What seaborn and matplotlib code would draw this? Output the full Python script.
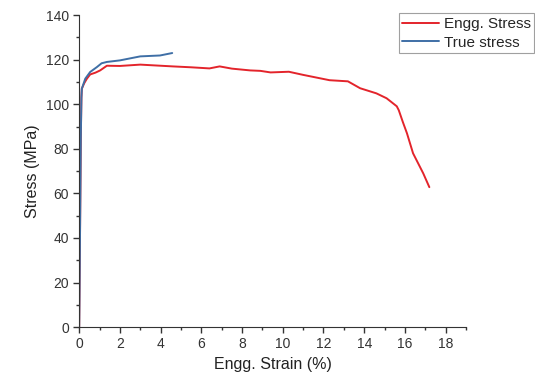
import numpy as np
import pandas as pd
import matplotlib
matplotlib.use("Agg")
import matplotlib.pyplot as plt
import seaborn as sns
from matplotlib.ticker import MultipleLocator, AutoMinorLocator

# values
engg_strain = [0.0, 0.04, 0.08, 0.11, 0.13, 0.25, 0.38, 0.54, 0.8, 1.03, 1.36, 2.0, 3.0,
               4.0, 4.6, 5.5, 6.4, 6.9, 7.5, 8.4, 8.9, 9.4, 10.3, 11.0, 12.3, 13.2,
               13.8, 14.6, 15.1, 15.6, 15.7, 15.9, 16.1, 16.4, 16.9, 17.2]
engg_stress = [0.0, 40.0, 85.0, 103.0, 107.0, 109.5, 111.5, 113.4, 114.2, 115.2, 117.3, 117.2,
               117.8, 117.3, 117.0, 116.6, 116.1, 117.0, 116.0, 115.2, 115.0, 114.3, 114.6,
               113.2, 110.8, 110.3, 107.2, 104.9, 102.7, 99.1, 97.3, 92.0, 87.0, 78.0,
               69.0, 62.8]

true_strain = [0.0, 0.04, 0.08, 0.11, 0.13, 0.3, 0.54, 0.87, 1.1, 1.36, 2.0, 2.5, 3.0,
               3.97, 4.57]
true_stress = [0.0, 40.0, 85.0, 103.0, 107.0, 111.5, 114.5, 116.7, 118.4, 119.0, 119.7,
               120.6, 121.5, 121.9, 123.0]

df = pd.concat([
    pd.DataFrame({"Strain": engg_strain, "Stress": engg_stress, "Series": "Engg. Stress"}),
    pd.DataFrame({"Strain": true_strain, "Stress": true_stress, "Series": "True stress"}),
])

sns.set_style("ticks")
plt.rcParams["font.family"] = ["Liberation Sans", "DejaVu Sans"]

fig = plt.figure(figsize=(5.35, 3.79), dpi=100)
ax = fig.add_axes([0.148, 0.137, 0.723, 0.823])

sns.lineplot(data=df, x="Strain", y="Stress", hue="Series", sort=False,
             palette={"Engg. Stress": "#e3242b", "True stress": "#3f6fa6"},
             linewidth=1.4, ax=ax)

ax.set_xlim(0, 19)
ax.set_ylim(0, 140)
ax.xaxis.set_major_locator(MultipleLocator(2))
ax.yaxis.set_major_locator(MultipleLocator(20))
ax.xaxis.set_minor_locator(AutoMinorLocator(2))
ax.yaxis.set_minor_locator(AutoMinorLocator(2))
ax.tick_params(which="major", length=4, width=1, labelsize=10, colors="#333333")
ax.tick_params(which="minor", length=2.5, width=1, colors="#333333")
for s in ["left", "bottom"]:
    ax.spines[s].set_color("#333333")
sns.despine(ax=ax)

ax.set_xlabel("Engg. Strain (%)", fontsize=11.5, color="#222222")
ax.set_ylabel("Stress (MPa)", fontsize=11.5, color="#222222")

leg = ax.legend(loc="upper right", bbox_to_anchor=(0.999, 0.965),
                bbox_transform=fig.transFigure, frameon=True,
                fancybox=False, edgecolor="#888888", fontsize=11,
                handlelength=2.4, borderpad=0.25, labelspacing=0.3, handletextpad=0.3,
                borderaxespad=0)
leg.get_frame().set_linewidth(0.8)

fig.savefig("out.png", dpi=100)
